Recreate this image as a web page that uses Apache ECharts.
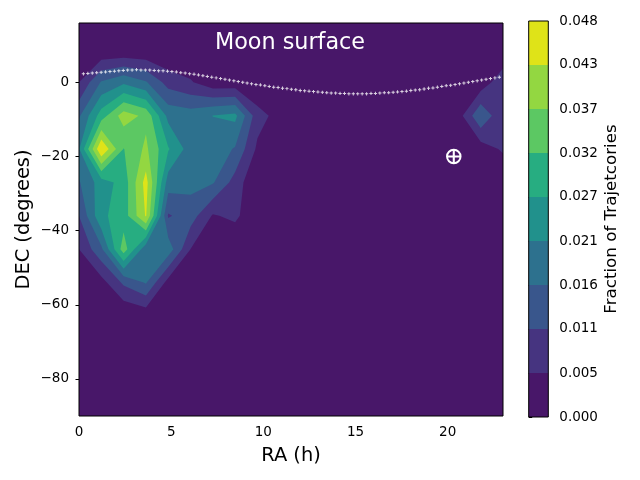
<!DOCTYPE html>
<html>
<head>
<meta charset="utf-8">
<style>
  html, body { margin: 0; padding: 0; background: #fff; }
  #chart { width: 640px; height: 480px; }
</style>
<script src="https://cdn.jsdelivr.net/npm/echarts@6/dist/echarts.min.js"></script>
</head>
<body>
<div id="chart"></div>
<script>
// grid nodes of the contour field
const raNodes = [0, 1.21, 2.42, 3.63, 4.84, 6.05, 7.26, 8.47, 9.68, 10.89, 12.11, 13.32, 14.53, 15.74, 16.95, 18.16, 19.37, 20.58, 21.79, 23];
const decNodes = [-90, -81, -72, -63, -54, -45, -36, -27, -18, -9, 0, 9, 16];

// fraction of trajectories, one list per declination
const decM90 = [0, 0, 0, 0, 0, 0, 0, 0, 0, 0, 0, 0, 0, 0, 0, 0, 0, 0, 0, 0];
const decM81 = [0, 0, 0, 0, 0, 0, 0, 0, 0, 0, 0, 0, 0, 0, 0, 0, 0, 0, 0, 0];
const decM72 = [0, 0, 0, 0, 0, 0, 0, 0, 0, 0, 0, 0, 0, 0, 0, 0, 0, 0, 0, 0];
const decM63 = [0, 0, 0, 0.0016, 0, 0, 0, 0, 0, 0, 0, 0, 0, 0, 0, 0, 0, 0, 0, 0];
const decM54 = [0, 0.0032, 0.0117, 0.0165, 0.0032, 0, 0, 0, 0, 0, 0, 0, 0, 0, 0, 0, 0, 0, 0, 0];
const decM45 = [0.0053, 0.0149, 0.0349, 0.0176, 0.0192, 0.0053, 0, 0, 0, 0, 0, 0, 0, 0, 0, 0, 0, 0, 0, 0];
const decM36 = [0.0107, 0.0256, 0.0292, 0.0432, 0.0101, 0.0133, 0.0048, 0.0066, 0.0005, 0, 0, 0, 0, 0, 0, 0, 0, 0, 0, 0];
const decM27 = [0.0155, 0.024, 0.0288, 0.0448, 0.0187, 0.0176, 0.0165, 0.0085, 0, 0, 0, 0, 0, 0, 0, 0, 0, 0, 0, 0];
const decM18 = [0.0208, 0.048, 0.0318, 0.0384, 0.0272, 0.0187, 0.0192, 0.0155, 0.0043, 0, 0, 0, 0, 0, 0, 0, 0, 0, 0.0025, 0.0061];
const decM9 = [0.0152, 0.0293, 0.04, 0.036, 0.0197, 0.0187, 0.0214, 0.0227, 0.0075, 0.0032, 0, 0, 0, 0, 0, 0, 0, 0.0029, 0.0155, 0.0059];
const dec0 = [0.0053, 0.0165, 0.0203, 0.0165, 0.0085, 0.0059, 0.0016, 0.0016, 0, 0, 0, 0, 0, 0, 0, 0, 0, 0, 0.0018, 0.0091];
const decP9 = [0, 0, 0, 0, 0, 0, 0, 0, 0, 0, 0, 0, 0, 0, 0, 0, 0, 0, 0, 0];
const decP16 = [0, 0, 0, 0, 0, 0, 0, 0, 0, 0, 0, 0, 0, 0, 0, 0, 0, 0, 0, 0];
const field = [decM90, decM81, decM72, decM63, decM54, decM45, decM36, decM27, decM18, decM9, dec0, decP9, decP16];

const levels = [0, 0.00533, 0.01067, 0.016, 0.02133, 0.02667, 0.032, 0.03733, 0.04267];
const levelColors = ['#481769', '#463480', '#39568c', '#2d718e', '#21918c', '#27ad81', '#5cc863', '#93d741', '#dfe318'];
const cbarTicks = [0, 0.00533, 0.01067, 0.016, 0.02133, 0.02667, 0.032, 0.03733, 0.04267, 0.048];

// moon surface track
const moonRa = [0.24, 0.48, 0.72, 0.96, 1.2, 1.44, 1.68, 1.92, 2.16, 2.4, 2.64, 2.88, 3.12, 3.36, 3.6, 3.84, 4.08, 4.32, 4.56, 4.8, 5.04, 5.28, 5.52, 5.76, 6, 6.24, 6.48, 6.72, 6.96, 7.2, 7.44, 7.68, 7.92, 8.16, 8.4, 8.64, 8.88, 9.12, 9.36, 9.6, 9.84, 10.08, 10.32, 10.56, 10.8, 11.04, 11.28, 11.52, 11.76, 12, 12.24, 12.48, 12.72, 12.96, 13.2, 13.44, 13.68, 13.92, 14.16, 14.4, 14.64, 14.88, 15.12, 15.36, 15.6, 15.84, 16.08, 16.32, 16.56, 16.8, 17.04, 17.28, 17.52, 17.76, 18, 18.24, 18.48, 18.72, 18.96, 19.2, 19.44, 19.68, 19.92, 20.16, 20.4, 20.64, 20.88, 21.12, 21.36, 21.6, 21.84, 22.08, 22.32, 22.56, 22.8];
const moonDec = [2.3, 2.4, 2.5, 2.6, 2.7, 2.8, 2.9, 3, 3.1, 3.2, 3.3, 3.3, 3.4, 3.3, 3.3, 3.3, 3.2, 3.1, 3.1, 3, 2.9, 2.8, 2.6, 2.5, 2.3, 2.2, 2, 1.8, 1.6, 1.4, 1.2, 1, 0.8, 0.6, 0.4, 0.2, 0, -0.2, -0.4, -0.6, -0.7, -0.9, -1.1, -1.3, -1.4, -1.6, -1.7, -1.9, -2, -2.2, -2.3, -2.4, -2.5, -2.6, -2.7, -2.8, -2.9, -2.9, -3, -3, -3.1, -3.1, -3.1, -3.1, -3.1, -3, -3, -2.9, -2.8, -2.8, -2.7, -2.6, -2.5, -2.4, -2.2, -2.1, -2, -1.8, -1.6, -1.5, -1.3, -1.1, -0.9, -0.8, -0.6, -0.4, -0.2, 0, 0.2, 0.4, 0.6, 0.8, 1, 1.2, 1.4];

const earthRa = 20.33;
const earthDec = -20;

const crossing = (p, q, level) => {
  const t = (level - p[2]) / (q[2] - p[2]);
  return [p[0] + (q[0] - p[0]) * t, p[1] + (q[1] - p[1]) * t, level];
};

// polygons of a grid cell where the field is at or above level
function clipCell(corners, level) {
  const inside = corners.map(p => p[2] >= level);
  const mean = corners.reduce((s, p) => s + p[2], 0) / 4;
  // saddle with a low centre: the two high corners stay apart
  if (inside[0] === inside[2] && inside[1] === inside[3] && inside[0] !== inside[1] && mean < level) {
    const polys = [];
    corners.forEach((p, k) => {
      if (!inside[k]) return;
      polys.push([p, crossing(p, corners[(k + 1) % 4], level), crossing(p, corners[(k + 3) % 4], level)]);
    });
    return polys;
  }
  const out = [];
  corners.forEach((p, k) => {
    const q = corners[(k + 1) % 4];
    if (inside[k]) out.push(p);
    if (inside[k] !== inside[(k + 1) % 4]) out.push(crossing(p, q, level));
  });
  return out.length > 2 ? [out] : [];
}

const cellCorners = (i, j) => [
  [raNodes[i], decNodes[j], field[j][i]],
  [raNodes[i + 1], decNodes[j], field[j][i + 1]],
  [raNodes[i + 1], decNodes[j + 1], field[j + 1][i + 1]],
  [raNodes[i], decNodes[j + 1], field[j + 1][i]]
];

const cbarBands = levelColors.map((c, k) => [k, cbarTicks[k], cbarTicks[k + 1]]);

const tickStyle = { length: 3.5, lineStyle: { color: '#000', width: 1 } };
const fontFamily = '"DejaVu Sans", sans-serif';

const chart = echarts.init(document.getElementById('chart'));
chart.setOption({
  animation: false,
  backgroundColor: '#fff',
  textStyle: { fontFamily },
  title: {
    text: 'Moon surface',
    left: 285,
    top: 27,
    textAlign: 'center',
    z: 10,
    textStyle: { color: '#fff', fontSize: 22.3, fontWeight: 'normal', fontFamily }
  },
  grid: [
    { left: 79, top: 23, width: 424, height: 393, show: true, borderColor: '#000', borderWidth: 1, backgroundColor: 'transparent', z: 5 },
    { left: 528.7, top: 21, width: 19.6, height: 396, show: true, borderColor: '#000', borderWidth: 1, backgroundColor: 'transparent', z: 5 }
  ],
  xAxis: [
    {
      type: 'value', gridIndex: 0, min: 0, max: 23,
      name: 'RA (h)', nameLocation: 'middle', nameGap: 30,
      nameTextStyle: { fontSize: 19.4, color: '#000' },
      splitLine: { show: false },
      axisLine: { show: false },
      axisTick: { ...tickStyle, show: true, customValues: [0, 5, 10, 15, 20] },
      axisLabel: { color: '#000', fontSize: 13.5, margin: 9, customValues: [0, 5, 10, 15, 20] }
    },
    { type: 'value', gridIndex: 1, min: 0, max: 1, show: false }
  ],
  yAxis: [
    {
      type: 'value', gridIndex: 0, min: -90, max: 16,
      name: 'DEC (degrees)', nameLocation: 'middle', nameGap: 46, nameMoveOverlap: false,
      nameTextStyle: { fontSize: 19.4, color: '#000' },
      splitLine: { show: false },
      axisLine: { show: false },
      axisTick: { ...tickStyle, show: true, customValues: [-80, -60, -40, -20, 0] },
      axisLabel: {
        color: '#000', fontSize: 13.5, margin: 10, customValues: [-80, -60, -40, -20, 0],
        formatter: v => String(v).replace('-', '\u2212')
      }
    },
    {
      type: 'value', gridIndex: 1, min: 0, max: 0.048, position: 'right',
      name: 'Fraction of Trajetcories', nameLocation: 'middle', nameGap: 55, nameRotate: 90,
      nameTextStyle: { fontSize: 16.7, color: '#000' },
      splitLine: { show: false },
      axisLine: { show: false },
      axisTick: { ...tickStyle, show: true, customValues: cbarTicks },
      axisLabel: {
        color: '#000', fontSize: 13.5, margin: 11, customValues: cbarTicks,
        formatter: v => v.toFixed(3)
      }
    }
  ],
  series: [
    {
      // one compound path per level, low levels first
      type: 'custom',
      xAxisIndex: 0,
      yAxisIndex: 0,
      coordinateSystem: 'cartesian2d',
      clip: true,
      silent: true,
      progressive: 0,
      z: 1,
      data: levels.map((level, l) => [l, level]),
      renderItem: (params, api) => {
        const l = api.value(0);
        let pathData = '';
        for (let j = 0; j < decNodes.length - 1; j++) {
          for (let i = 0; i < raNodes.length - 1; i++) {
            clipCell(cellCorners(i, j), levels[l]).forEach(poly => {
              pathData += poly.map((p, k) => {
                const c = api.coord([p[0], p[1]]);
                return (k ? 'L' : 'M') + c[0].toFixed(2) + ' ' + c[1].toFixed(2);
              }).join('') + 'Z';
            });
          }
        }
        return {
          type: 'path',
          shape: { pathData },
          style: { fill: levelColors[l] }
        };
      }
    },
    {
      type: 'custom',
      xAxisIndex: 1,
      yAxisIndex: 1,
      coordinateSystem: 'cartesian2d',
      silent: true,
      z: 1,
      data: cbarBands,
      renderItem: (params, api) => {
        const a = api.coord([0, api.value(1)]);
        const b = api.coord([1, api.value(2)]);
        return {
          type: 'rect',
          shape: { x: a[0], y: b[1], width: b[0] - a[0], height: a[1] - b[1] },
          style: { fill: levelColors[api.value(0)] }
        };
      }
    },
    {
      type: 'scatter',
      xAxisIndex: 0,
      yAxisIndex: 0,
      silent: true,
      z: 3,
      symbol: 'path://M-1.2,-4H1.2V-1.2H4V1.2H1.2V4H-1.2V1.2H-4V-1.2H-1.2Z',
      symbolSize: 3.3,
      itemStyle: { color: '#fff', opacity: 0.8 },
      data: moonRa.map((ra, k) => [ra, moonDec[k]])
    },
    {
      type: 'scatter',
      xAxisIndex: 0,
      yAxisIndex: 0,
      silent: true,
      z: 3,
      symbol: 'circle',
      symbolSize: 13.5,
      itemStyle: { color: 'rgba(0,0,0,0)', borderColor: '#fff', borderWidth: 2, opacity: 1 },
      data: [[earthRa, earthDec]]
    },
    {
      type: 'scatter',
      xAxisIndex: 0,
      yAxisIndex: 0,
      silent: true,
      z: 3,
      symbol: 'path://M-0.8,-5H0.8V-0.8H5V0.8H0.8V5H-0.8V0.8H-5V-0.8H-0.8Z',
      symbolSize: 13,
      itemStyle: { color: '#fff', opacity: 1 },
      data: [[earthRa, earthDec]]
    }
  ]
});
</script>
</body>
</html>
